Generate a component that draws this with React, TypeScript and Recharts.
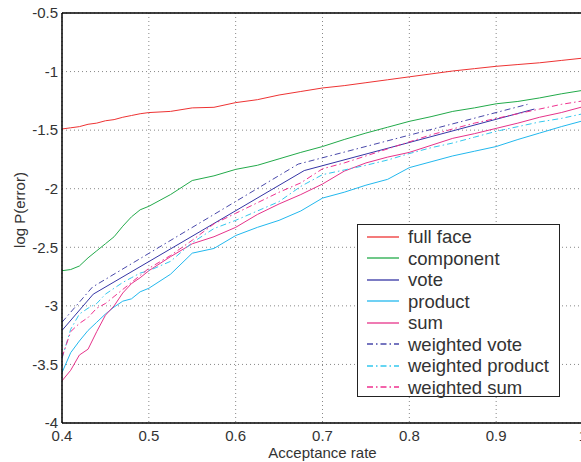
import { LineChart, Line, XAxis, YAxis, CartesianGrid, ReferenceLine, Label } from 'recharts'

const rates = [
  0.4, 0.41, 0.42, 0.43, 0.44, 0.45, 0.46, 0.47, 0.48, 0.49, 0.5, 0.525, 0.55, 0.575, 0.6, 0.625,
  0.65, 0.675, 0.7, 0.725, 0.75, 0.775, 0.8, 0.825, 0.85, 0.875, 0.9, 0.925, 0.95, 0.975, 1.0,
]

const fullFace = [
  -1.49, -1.48, -1.47, -1.45, -1.44, -1.42, -1.41, -1.39, -1.375, -1.36, -1.35, -1.34, -1.31, -1.305,
  -1.265, -1.24, -1.2, -1.17, -1.14, -1.12, -1.095, -1.07, -1.045, -1.02, -0.995, -0.975, -0.955,
  -0.94, -0.925, -0.905, -0.885,
]
const component = [
  -2.7, -2.69, -2.66, -2.59, -2.53, -2.47, -2.41, -2.32, -2.24, -2.18, -2.15, -2.05, -1.93, -1.89,
  -1.835, -1.8, -1.745, -1.69, -1.64, -1.58, -1.525, -1.475, -1.425, -1.385, -1.34, -1.31, -1.275,
  -1.255, -1.225, -1.19, -1.16,
]
const product = [
  -3.57, -3.4, -3.3, -3.21, -3.14, -3.07, -3.01, -2.96, -2.94, -2.88, -2.85, -2.73, -2.55, -2.51,
  -2.4, -2.33, -2.27, -2.19, -2.08, -2.03, -1.97, -1.92, -1.82, -1.77, -1.72, -1.68, -1.64, -1.58,
  -1.525, -1.47, -1.42,
]
const sum = [
  -3.64, -3.55, -3.42, -3.37, -3.22, -3.08, -3.0, -2.89, -2.81, -2.76, -2.7, -2.58, -2.47, -2.41,
  -2.33, -2.22, -2.13, -2.05, -1.96, -1.85, -1.78, -1.73, -1.69, -1.63, -1.57, -1.53, -1.485, -1.44,
  -1.39, -1.35, -1.3,
]
const weightedProduct = [
  -3.45, -3.2, -3.07, -3.02, -2.98, -2.9, -2.85, -2.8, -2.76, -2.72, -2.7, -2.62, -2.46, -2.34,
  -2.27, -2.19, -2.11, -1.98, -1.88, -1.84, -1.8, -1.755, -1.7, -1.65, -1.61, -1.56, -1.51, -1.47,
  -1.43, -1.4, -1.36,
]
const weightedSum = [
  -3.44, -3.22, -3.15, -3.1, -3.02, -2.98, -2.92, -2.86, -2.8, -2.74, -2.68, -2.57, -2.44, -2.3,
  -2.21, -2.12, -2.03, -1.95, -1.83, -1.78, -1.72, -1.66, -1.6, -1.54, -1.49, -1.44, -1.4, -1.36,
  -1.32, -1.28, -1.25,
]

const voteRates = [0.4, 0.436, 0.679, 0.944]
const vote = [-3.21, -2.9, -1.845, -1.32]
const weightedVoteRates = [0.4, 0.435, 0.672, 0.936]
const weightedVote = [-3.14, -2.84, -1.79, -1.28]

const xTicks = [0.4, 0.5, 0.6, 0.7, 0.8, 0.9, 1]
const yTicks = [-4, -3.5, -3, -2.5, -2, -1.5, -1, -0.5]

const zip = (xs: number[], ys: number[]) => xs.map((x, i) => ({ x, y: ys[i] }))

const DASH_DOT = '6 3 1.5 3'
const FONT = '"Liberation Sans", Arial, Helvetica, sans-serif'

const series = [
  { name: 'full face', data: zip(rates, fullFace), color: '#ee3333', dash: undefined },
  { name: 'component', data: zip(rates, component), color: '#22aa4a', dash: undefined },
  { name: 'vote', data: zip(voteRates, vote), color: '#3535a5', dash: undefined },
  { name: 'product', data: zip(rates, product), color: '#22b8ee', dash: undefined },
  { name: 'sum', data: zip(rates, sum), color: '#e6338a', dash: undefined },
  { name: 'weighted vote', data: zip(weightedVoteRates, weightedVote), color: '#4848aa', dash: DASH_DOT },
  { name: 'weighted product', data: zip(rates, weightedProduct), color: '#33c8ee', dash: DASH_DOT },
  { name: 'weighted sum', data: zip(rates, weightedSum), color: '#f0308f', dash: DASH_DOT },
]

function LegendBox() {
  return (
    <div
      style={{
        position: 'absolute',
        left: 357,
        top: 224,
        width: 203,
        height: 173,
        border: '1px solid #222',
        background: '#fff',
        boxSizing: 'border-box',
        paddingTop: 1,
      }}
    >
      {series.map((s) => (
        <div key={s.name} style={{ display: 'flex', alignItems: 'center', height: 21.5 }}>
          <svg width={32} height={6} style={{ marginLeft: 9, marginRight: 9 }}>
            <line x1={0} y1={3} x2={32} y2={3} stroke={s.color} strokeWidth={1.3} strokeDasharray={s.dash} />
          </svg>
          <span style={{ fontFamily: FONT, fontSize: 18.5, color: '#333', lineHeight: '21px' }}>{s.name}</span>
        </div>
      ))}
    </div>
  )
}

const yLabel = () => (
  <text
    x={19}
    y={210}
    transform="rotate(-90 19 210)"
    textAnchor="middle"
    dominantBaseline="central"
    fill="#333"
    fontSize={15}
    fontFamily={FONT}
  >
    log P(error)
  </text>
)

export default function App() {
  return (
    <div
      style={{
        position: 'absolute',
        left: 0,
        top: 0,
        width: 581,
        height: 462,
        overflow: 'hidden',
        background: '#fff',
        fontFamily: FONT,
      }}
    >
      <LineChart width={600} height={462} margin={{ top: 13, right: 17, bottom: 0, left: 0 }}>
        <CartesianGrid stroke="#888" strokeDasharray="1 3" />
        <XAxis
          type="number"
          dataKey="x"
          domain={[0.4, 1]}
          ticks={xTicks}
          allowDataOverflow
          height={39}
          tickLine={false}
          tickMargin={1}
          axisLine={{ stroke: '#000', strokeWidth: 1.5 }}
          tick={{ fill: '#333', fontSize: 15, fontFamily: FONT }}
        >
          <Label value="Acceptance rate" position="insideBottom" offset={4} style={{ fill: '#333', fontSize: 15, fontFamily: FONT }} />
        </XAxis>
        <YAxis
          type="number"
          dataKey="y"
          domain={[-4, -0.5]}
          ticks={yTicks}
          allowDataOverflow
          width={62}
          tickLine={false}
          tickSize={4}
          tickMargin={0}
          axisLine={{ stroke: '#000', strokeWidth: 1.5 }}
          tick={{ fill: '#333', fontSize: 15, fontFamily: FONT }}
        >
          <Label content={yLabel} />
        </YAxis>
        <ReferenceLine y={-0.5} stroke="#000" strokeWidth={1.5} />
        <ReferenceLine x={1} stroke="#000" strokeWidth={1.5} />
        {series.map((s) => (
          <Line
            key={s.name}
            data={s.data}
            dataKey="y"
            name={s.name}
            type="linear"
            stroke={s.color}
            strokeWidth={1}
            strokeDasharray={s.dash}
            dot={false}
            isAnimationActive={false}
          />
        ))}
      </LineChart>
      <LegendBox />
    </div>
  )
}
